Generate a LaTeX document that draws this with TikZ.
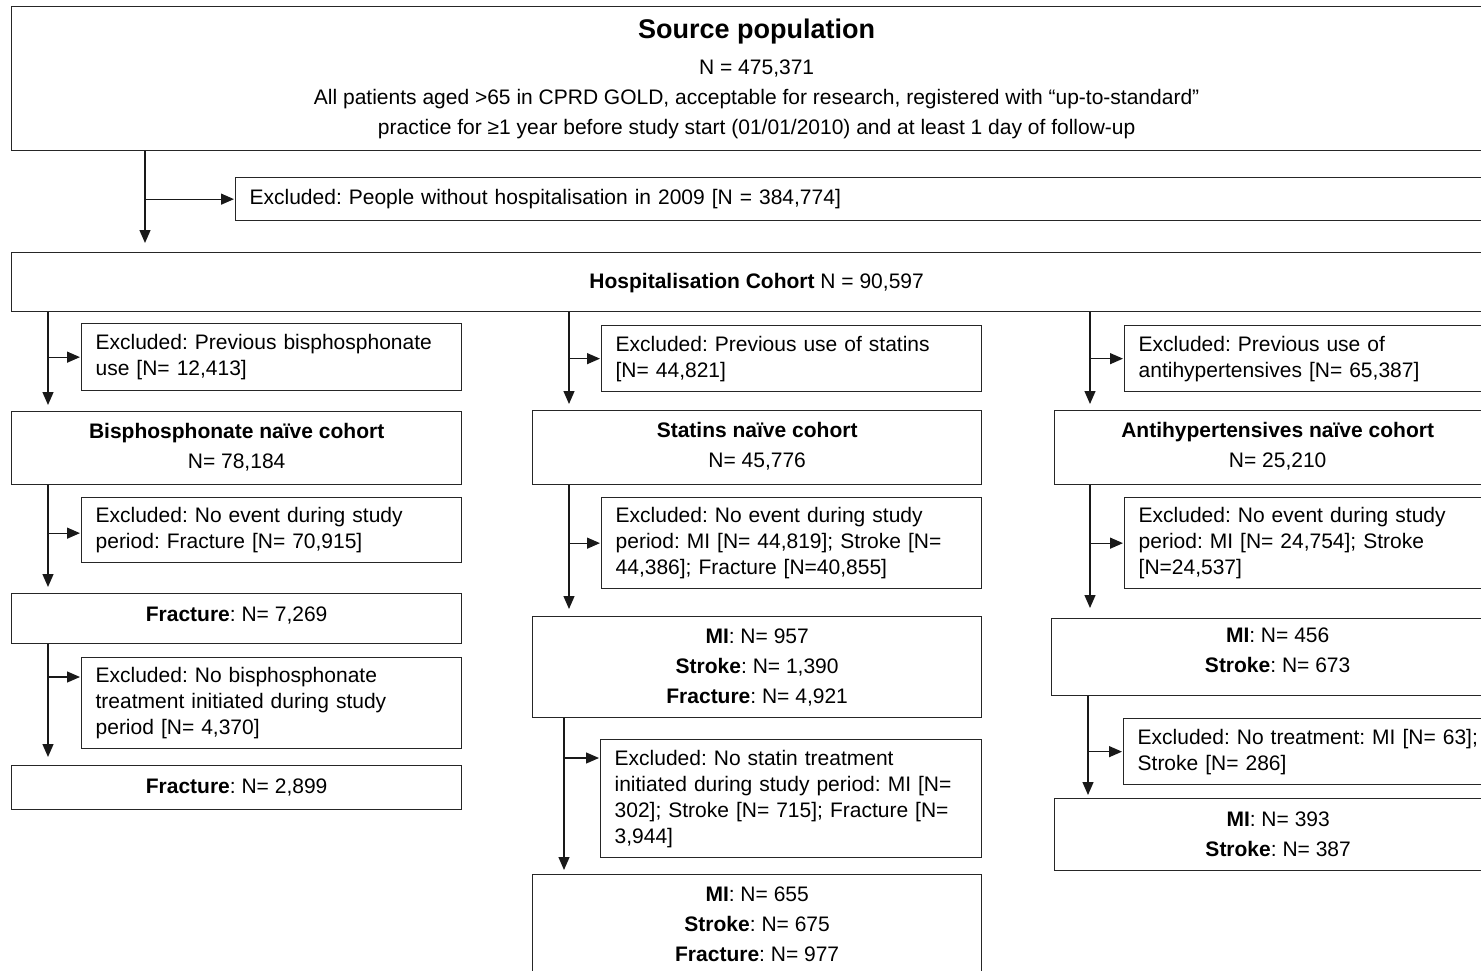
\documentclass[tikz,border=0pt]{standalone}
\usepackage{fontspec}
\setmainfont{Liberation Sans}
\usetikzlibrary{arrows.meta}
\newcommand\xdepth[1]{\rule[-#1]{0pt}{#1}}
\begin{document}
\frenchspacing
\begin{tikzpicture}[x=1pt,y=-1pt,
  box/.style={draw=black!85, line width=1.3pt, inner sep=0pt, anchor=north west, align=center, font=\frenchspacing\fontsize{21}{30}\selectfont},
  exbox/.style={draw=black!85, line width=1.3pt, inner xsep=14pt, inner ysep=0pt, anchor=north west, align=left, font=\frenchspacing\fontsize{21}{26}\selectfont},
  arr/.style={line width=1.3pt, draw=black!90, -{Triangle[length=13pt,width=11pt]}},
  down/.style={arr, shorten >=6pt},
  side/.style={arr, shorten >=1pt}
]
\useasboundingbox (0,0) rectangle (1481,971);
\clip (0,0) rectangle (1481,971);

% top
\node[box, minimum width=1490, minimum height=144] (src) at (11,6)
  {{\fontsize{27}{30}\selectfont\bfseries Source population}\\[6pt]
   N = 475,371\\
   All patients aged >65 in CPRD GOLD, acceptable for research, registered with “up-to-standard”\\
   practice for ≥1 year before study start (01/01/2010) and at least 1 day of follow-up};
\node[exbox, text width=1238, minimum height=43] (ex0) at (235,177)
  {Excluded: People without hospitalisation in 2009 {[}N = 384,774]};
\node[box, minimum width=1490, minimum height=59] (hosp) at (11,252)
  {\rule{0pt}{18pt}\textbf{Hospitalisation Cohort} N = 90,597};

% left column
\node[exbox, text width=352, minimum height=67] (exA1) at (81,323)
  {Excluded: Previous bisphosphonate\\use {[}N= 12,413]};
\node[box, minimum width=450, minimum height=73] (bis) at (11,411)
  {\textbf{Bisphosphonate naïve cohort}\\N= 78,184\xdepth{5pt}};
\node[exbox, text width=352, minimum height=65] (exA2) at (81,497)
  {Excluded: No event during study\\period: Fracture {[}N= 70,915]};
\node[box, minimum width=450, minimum height=50] (frA) at (11,593)
  {\textbf{Fracture}: N= 7,269\xdepth{9pt}};
\node[exbox, text width=352, minimum height=91] (exA3) at (81,657)
  {Excluded: No bisphosphonate\\treatment initiated during study\\period {[}N= 4,370]};
\node[box, minimum width=450, minimum height=44] (frA2) at (11,765)
  {\textbf{Fracture}: N= 2,899};

% middle column
\node[exbox, text width=352, minimum height=66] (exB1) at (601,325)
  {Excluded: Previous use of statins\\{[}N= 44,821]};
\node[box, minimum width=449, minimum height=74] (stat) at (532,410)
  {\textbf{Statins naïve cohort}\\N= 45,776\xdepth{5pt}};
\node[exbox, text width=352, minimum height=91] (exB2) at (601,497)
  {Excluded: No event during study\\period: MI {[}N= 44,819]; Stroke {[}N=\\44,386]; Fracture {[}N=40,855]};
\node[box, minimum width=449, minimum height=101] (resB) at (532,616)
  {\textbf{MI}: N= 957\\\textbf{Stroke}: N= 1,390\\\textbf{Fracture}: N= 4,921};
\node[exbox, text width=353, minimum height=118] (exB3) at (600,739)
  {Excluded: No statin treatment\\initiated during study period: MI {[}N=\\302]; Stroke {[}N= 715]; Fracture {[}N=\\3,944]};
\node[box, minimum width=449, minimum height=100] (resB2) at (532,874)
  {\textbf{MI}: N= 655\\\textbf{Stroke}: N= 675\\\textbf{Fracture}: N= 977};

% right column
\node[exbox, text width=349, minimum height=66] (exC1) at (1124,325)
  {Excluded: Previous use of\\antihypertensives {[}N= 65,387]};
\node[box, minimum width=446, minimum height=74] (anti) at (1054,410)
  {\textbf{Antihypertensives naïve cohort}\\N= 25,210\xdepth{5pt}};
\node[exbox, text width=349, minimum height=91] (exC2) at (1124,497)
  {Excluded: No event during study\\period: MI {[}N= 24,754]; Stroke\\{[}N=24,537]};
\node[box, minimum width=452, minimum height=77] (resC) at (1051,618)
  {\textbf{MI}: N= 456\\\textbf{Stroke}: N= 673\xdepth{14pt}};
\node[exbox, text width=350, minimum height=66] (exC3) at (1123,718)
  {Excluded: No treatment: MI {[}N= 63];\\Stroke {[}N= 286]};
\node[box, minimum width=447, minimum height=72] (resC2) at (1054,798)
  {\textbf{MI}: N= 393\\\textbf{Stroke}: N= 387};

% connectors: top
\draw[down, shorten >=9pt] (src.south -| 145,0) -- (hosp.north -| 145,0);
\draw[side] (ex0.west -| 145,0) -- (ex0.west);

% left
\draw[down] (hosp.south -| 48,0) -- (bis.north -| 48,0);
\draw[side] (exA1.west -| 48,0) -- (exA1.west);
\draw[down] (bis.south -| 48,0) -- (frA.north -| 48,0);
\draw[side] ([yshift=-3pt]exA2.west -| 48,0) -- ([yshift=-3pt]exA2.west);
\draw[down, shorten >=8pt] (frA.south -| 48,0) -- (frA2.north -| 48,0);
\draw[side] ([yshift=-20pt]exA3.north west -| 48,0) -- ([yshift=-20pt]exA3.north west);

% middle
\draw[down] (hosp.south -| 569,0) -- (stat.north -| 569,0);
\draw[side] (exB1.west -| 569,0) -- (exB1.west);
\draw[down, shorten >=7pt] (stat.south -| 569,0) -- (resB.north -| 569,0);
\draw[side] (exB2.west -| 569,0) -- (exB2.west);
\draw[down, shorten >=4pt] (resB.south -| 564,0) -- (resB2.north -| 564,0);
\draw[side] ([yshift=-19pt]exB3.north west -| 564,0) -- ([yshift=-19pt]exB3.north west);

% right
\draw[down] (hosp.south -| 1090,0) -- (anti.north -| 1090,0);
\draw[side] (exC1.west -| 1090,0) -- (exC1.west);
\draw[down, shorten >=10pt] (anti.south -| 1090,0) -- (resC.north -| 1090,0);
\draw[side] (exC2.west -| 1090,0) -- (exC2.west);
\draw[down, shorten >=3pt] (resC.south -| 1088,0) -- (resC2.north -| 1088,0);
\draw[side] (exC3.west -| 1088,0) -- (exC3.west);
\end{tikzpicture}
\end{document}
